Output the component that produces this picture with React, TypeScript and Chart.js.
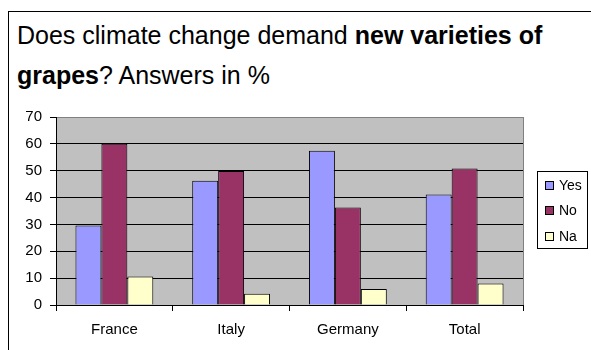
import React, { useEffect, useRef } from "react";
import { Chart, registerables } from "chart.js";

Chart.register(...registerables);

const categories = ["France", "Italy", "Germany", "Total"];
const yesValues = [29.6, 46.3, 57.4, 41.1];
const noValues = [60, 49.9, 36.3, 50.8];
const naValues = [10.6, 4.2, 6.0, 8.0];
const seriesLabels = ["Yes", "No", "Na"];
const seriesColors = ["#9999ff", "#993366", "#ffffcc"];
const yTicks = [0, 10, 20, 30, 40, 50, 60, 70];

const FONT = "'Liberation Sans', Arial, Helvetica, sans-serif";

// grey plot area with a grey frame on the right
const plotBackground = {
  id: "plotBackground",
  beforeDraw(chart: any) {
    const { ctx, chartArea } = chart;
    const { left, top, right, bottom } = chartArea;
    ctx.save();
    ctx.fillStyle = "#c0c0c0";
    ctx.fillRect(left, top, right - left, bottom - top);
    ctx.strokeStyle = "#808080";
    ctx.lineWidth = 1;
    ctx.beginPath();
    ctx.moveTo(Math.round(right) + 0.5, top);
    ctx.lineTo(Math.round(right) + 0.5, bottom);
    ctx.stroke();
    ctx.restore();
  },
};

// boxed legend to the right of the plot
const boxedLegend = {
  id: "boxedLegend",
  afterDraw(chart: any) {
    const { ctx, chartArea } = chart;
    const x = Math.round(chartArea.right) + 14.5;
    const y = 71.5;
    const w = 50;
    const h = 77;
    ctx.save();
    ctx.strokeStyle = "#000";
    ctx.lineWidth = 1;
    ctx.fillStyle = "#fff";
    ctx.fillRect(x, y, w, h);
    ctx.strokeRect(x, y, w, h);
    ctx.font = `14px ${FONT}`;
    ctx.textBaseline = "middle";
    chart.data.datasets.forEach((ds: any, i: number) => {
      const cy = Math.round(y + 13 + i * 25.5);
      ctx.fillStyle = ds.backgroundColor;
      ctx.fillRect(x + 8, cy - 3.5, 8, 8);
      ctx.strokeStyle = "#000";
      ctx.strokeRect(x + 8, cy - 3.5, 8, 8);
      ctx.fillStyle = "#000";
      ctx.fillText(ds.label, x + 21.5, cy + 1);
    });
    ctx.restore();
  },
};

export default function App() {
  const canvasRef = useRef<HTMLCanvasElement | null>(null);

  useEffect(() => {
    if (!canvasRef.current) return;
    const values = [yesValues, noValues, naValues];
    const chart = new Chart(canvasRef.current, {
      type: "bar",
      data: {
        labels: categories,
        datasets: seriesLabels.map((label, i) => ({
          label,
          data: values[i],
          backgroundColor: seriesColors[i],
          borderColor: "#000",
          borderWidth: 1,
          categoryPercentage: 3 / 4.5,
          barPercentage: 1,
        })),
      },
      options: {
        responsive: false,
        animation: false,
        devicePixelRatio: 1,
        layout: { padding: { left: 0, top: 14, right: 68, bottom: 0 } },
        plugins: {
          legend: { display: false },
          title: { display: false },
          tooltip: { enabled: false },
        },
        scales: {
          x: {
            afterFit: (scale: any) => {
              scale.height = 45;
            },
            grid: {
              offset: true,
              drawOnChartArea: false,
              drawTicks: true,
              tickLength: 6,
              tickColor: "#000",
            },
            border: { color: "#000", width: 1 },
            ticks: {
              color: "#000",
              font: { family: FONT, size: 15 },
              padding: 10,
            },
          },
          y: {
            min: 0,
            max: 70,
            afterFit: (scale: any) => {
              scale.width = 47;
            },
            afterBuildTicks: (scale: any) => {
              scale.ticks = yTicks.map((v) => ({ value: v }));
            },
            grid: {
              color: (c: any) => (c.tick && c.tick.value === 70 ? "#808080" : "#000"),
              tickColor: "#000",
              tickLength: 6,
              lineWidth: 1,
            },
            border: { color: "#000", width: 1 },
            ticks: {
              color: "#000",
              font: { family: FONT, size: 15 },
              padding: 8,
            },
          },
        },
      },
      plugins: [plotBackground, boxedLegend],
    });
    return () => chart.destroy();
  }, []);

  return (
    <div
      style={{
        position: "fixed",
        left: 8,
        top: 11,
        right: 0,
        bottom: 0,
        overflow: "hidden",
      }}
    >
      <div
        style={{
          position: "absolute",
          left: 0,
          top: 0,
          width: 640,
          height: 420,
          border: "1px solid #000",
          boxSizing: "border-box",
          background: "#fff",
        }}
      >
        <div
          style={{
            position: "absolute",
            left: 8,
            top: 3,
            fontFamily: FONT,
            fontSize: 25,
            lineHeight: "40px",
            color: "#000",
            whiteSpace: "nowrap",
          }}
        >
          Does climate change demand <b>new varieties of</b>
          <br />
          <b>grapes</b>? Answers in %
        </div>
        <canvas
          ref={canvasRef}
          width={582}
          height={250}
          style={{ position: "absolute", left: 0, top: 88, display: "block" }}
        />
      </div>
    </div>
  );
}
